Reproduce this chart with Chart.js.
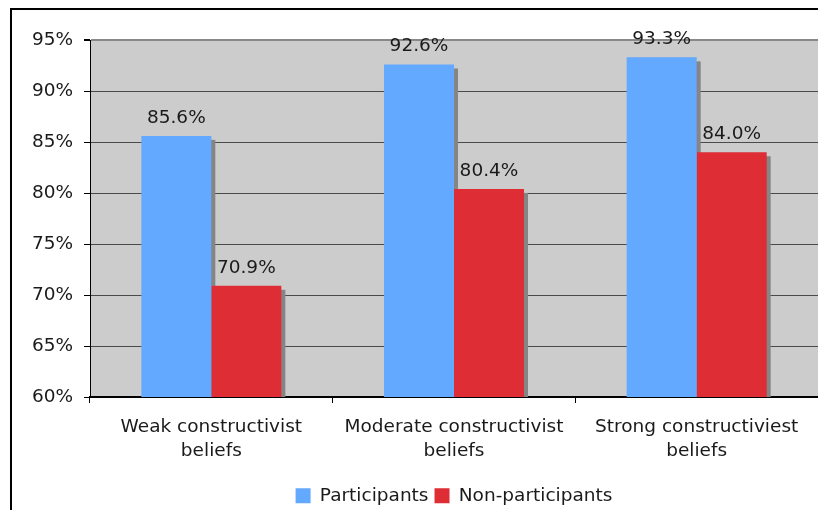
<!DOCTYPE html>
<html>
<head>
<meta charset="utf-8">
<script src="https://cdn.jsdelivr.net/npm/chart.js@4"></script>
<style>
  html, body { margin: 0; padding: 0; background: #fff; overflow: hidden; }
  #myChart { position: absolute; left: 0; top: 0; }
</style>
</head>
<body>
<canvas id="myChart" width="818" height="510"></canvas>
<script>
const categories = [
    ['Weak constructivist', 'beliefs'],
    ['Moderate constructivist', 'beliefs'],
    ['Strong constructiviest', 'beliefs']
];
const participants = [85.6, 92.6, 93.3];
const nonParticipants = [70.9, 80.4, 84.0];
const yTicks = [60, 65, 70, 75, 80, 85, 90, 95];

const FONT = { family: 'DejaVu Sans', size: 18.5, lineHeight: 1.3 };

// outer frame and grey plot background
const plotBackground = {
    id: 'plotBackground',
    beforeDraw(chart) {
        const { ctx, chartArea: a } = chart;
        ctx.save();
        ctx.strokeStyle = '#000';
        ctx.lineWidth = 2;
        ctx.strokeRect(11, 9, 1000, 1000);
        ctx.fillStyle = '#cccccc';
        ctx.fillRect(a.left, a.top, a.right - a.left, a.bottom - a.top);
        ctx.restore();
    }
};

// flat drop shadow behind every bar
const barShadow = {
    id: 'barShadow',
    beforeDatasetsDraw(chart) {
        const { ctx, chartArea: a } = chart;
        ctx.save();
        ctx.beginPath();
        ctx.rect(a.left, a.top, a.right - a.left, a.bottom - a.top);
        ctx.clip();
        ctx.fillStyle = '#858585';
        chart.data.datasets.forEach((ds, i) => {
            chart.getDatasetMeta(i).data.forEach(bar => {
                const left = bar.x - bar.width / 2;
                ctx.fillRect(left + 4, bar.y + 4, bar.width, bar.base - bar.y);
            });
        });
        ctx.restore();
    }
};

// value labels above the bars
const valueLabels = {
    id: 'valueLabels',
    afterDatasetsDraw(chart) {
        const { ctx } = chart;
        ctx.save();
        ctx.font = FONT.size + 'px ' + FONT.family;
        ctx.fillStyle = '#1a1a1a';
        ctx.textAlign = 'center';
        ctx.textBaseline = 'alphabetic';
        chart.data.datasets.forEach((ds, i) => {
            chart.getDatasetMeta(i).data.forEach((bar, j) => {
                ctx.fillText(ds.data[j].toFixed(1) + '%', bar.x, bar.y - 13);
            });
        });
        ctx.restore();
    }
};

const ctx = document.getElementById('myChart').getContext('2d');
const myChart = new Chart(ctx, {
    type: 'bar',
    data: {
        labels: categories,
        datasets: [{
            label: 'Participants',
            data: participants,
            backgroundColor: '#63a9ff'
        }, {
            label: 'Non-participants',
            data: nonParticipants,
            backgroundColor: '#de2d35'
        }]
    },
    options: {
        responsive: false,
        animation: false,
        devicePixelRatio: 1,
        layout: { padding: { top: 40, left: 0, right: 0, bottom: -5 } },
        datasets: {
            bar: { categoryPercentage: 0.577, barPercentage: 1.0 }
        },
        scales: {
            x: {
                grid: {
                    offset: true,
                    drawOnChartArea: false,
                    tickLength: 6,
                    tickColor: '#000'
                },
                border: { color: '#000', width: 2 },
                ticks: { font: FONT, color: '#1a1a1a', padding: 12, maxRotation: 0 },
                afterFit(scale) { scale.height = 83.5; }
            },
            y: {
                min: 60,
                max: 95,
                afterBuildTicks(scale) { scale.ticks = yTicks.map(v => ({ value: v })); },
                grid: {
                    color: c => c.tick && c.tick.value === 95 ? '#888888' : '#4a4a4a',
                    lineWidth: c => c.tick && c.tick.value === 95 ? 2 : 1,
                    tickLength: 6,
                    tickColor: '#000'
                },
                border: { color: '#000', width: 1 },
                ticks: {
                    font: FONT,
                    color: '#1a1a1a',
                    padding: 11,
                    callback: v => v + '%'
                },
                afterFit(scale) { scale.width = 90; }
            }
        },
        plugins: {
            legend: {
                position: 'bottom',
                fullSize: false,   // centred under the plot area rather than the canvas
                labels: {
                    font: { family: 'DejaVu Sans', size: 18.5 },
                    color: '#1a1a1a',
                    boxWidth: 15,
                    boxHeight: 15,
                    padding: 6
                }
            },
            tooltip: { enabled: false }
        }
    },
    plugins: [plotBackground, barShadow, valueLabels]
});
</script>
</body>
</html>
